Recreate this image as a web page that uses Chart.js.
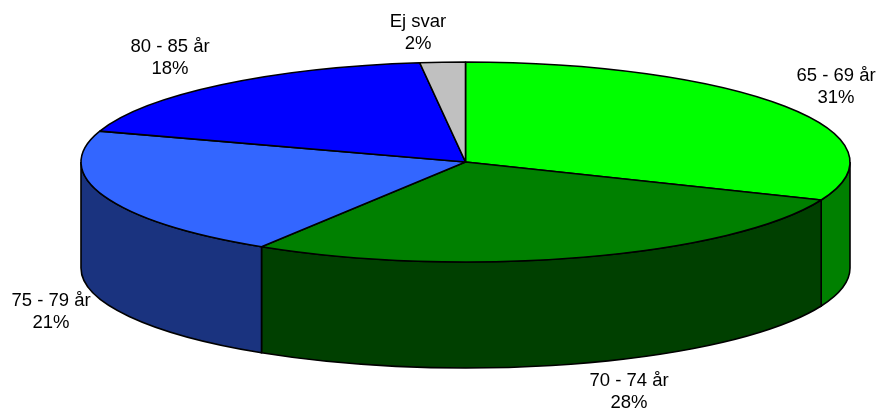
<!DOCTYPE html>
<html><head><meta charset="utf-8">
<style>html,body{margin:0;padding:0;background:#fff}#w{width:879px;height:412px}</style>
<script src="https://cdn.jsdelivr.net/npm/chart.js@4"></script>
</head><body><div id="w"><canvas id="c"></canvas></div>
<script>
const categories = ['65 - 69 år','70 - 74 år','75 - 79 år','80 - 85 år','Ej svar'];
const values = [31.2,27.7,21.1,18.1,1.9];
const topColors = ['#00ff00','#008000','#3366ff','#0000ff','#c0c0c0'];
const sideColors = ['#008000','#004000','#1a337f','#000080','#606060'];
const labelAnchors = [[836,76],[629,381],[51,301],[170,47],[418,22]];
const CX=465.5, CY=162, RX=384.5, RY=100, DEPTH=106, LINE=22, STROKE=1.6;

const pie3d = {
  id:'pie3d',
  beforeDatasetsDraw(chart){
    const ctx=chart.ctx, arcs=chart.getDatasetMeta(0).data;
    // side wall: swept from each library arc's own angles, front half only
    arcs.forEach((el,i)=>{
      const a0=Math.max(el.startAngle,0), a1=Math.min(el.endAngle,Math.PI);
      if(a1<=a0) return;
      ctx.save();
      ctx.beginPath();
      ctx.ellipse(CX,CY,RX,RY,0,a0,a1);
      ctx.ellipse(CX,CY+DEPTH,RX,RY,0,a1,a0,true);
      ctx.closePath();
      ctx.fillStyle=sideColors[i]; ctx.fill();
      ctx.strokeStyle='#000'; ctx.lineWidth=STROKE; ctx.stroke();
      ctx.restore();
    });
    // top face is drawn by the chart itself under this transform
    const plainStroke=ctx.stroke;
    ctx.stroke=function(){ctx.save();ctx.setTransform(1,0,0,1,0,0);ctx.lineWidth=STROKE;plainStroke.call(ctx);ctx.restore();};
    ctx.save();
    const a=arcs[0], r=a.outerRadius;
    ctx.translate(CX,CY); ctx.scale(RX/r,RY/r); ctx.translate(-a.x,-a.y);
  },
  afterDatasetsDraw(chart){
    const ctx=chart.ctx;
    ctx.restore();
    delete ctx.stroke;
    ctx.save();
    ctx.fillStyle='#000'; ctx.font='18.5px "Liberation Sans", Arial, sans-serif';
    ctx.textAlign='center'; ctx.textBaseline='middle';
    categories.forEach((c,i)=>{
      const [x,y]=labelAnchors[i];
      ctx.fillText(c,x,y);
      ctx.fillText(Math.round(values[i])+'%',x,y+LINE);
    });
    ctx.restore();
  }
};

new Chart(document.getElementById('c'),{
  type:'pie',
  data:{labels:categories,datasets:[{data:values,backgroundColor:topColors,borderColor:'#000',borderWidth:1,clip:false}]},
  options:{
    responsive:true,maintainAspectRatio:false,animation:false,events:[],
    layout:{padding:0},
    plugins:{legend:{display:false},tooltip:{enabled:false},title:{display:false}}
  },
  plugins:[pie3d]
});
</script></body></html>
